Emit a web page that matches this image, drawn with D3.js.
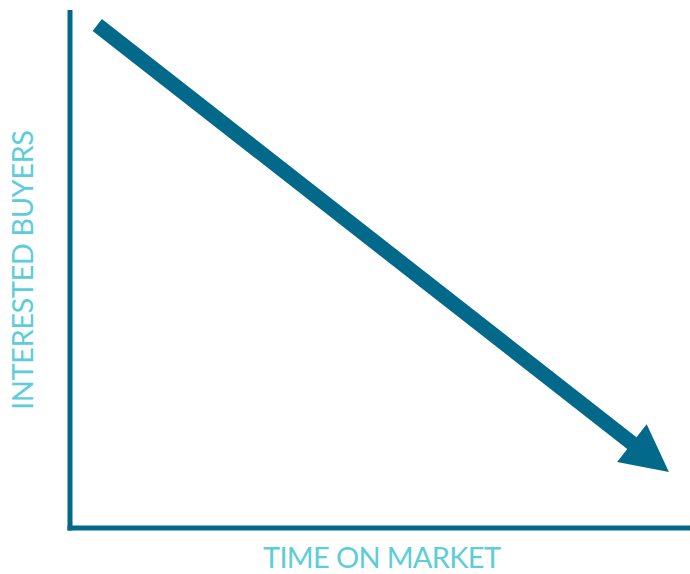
<!DOCTYPE html>
<html>
<head>
<meta charset="utf-8">
<script src="https://cdn.jsdelivr.net/npm/d3@7"></script>
<style>
  body { margin: 0; background: #fff; }
  svg { display: block; }
  .axis-label { font-family: Lato, "Open Sans", sans-serif; fill: #5ccdd9; font-size: 29px; }
</style>
</head>
<body>
<div class="chart"></div>
<script>
// Trend data (domain units, 0..100 on each axis).
const timeOnMarket = [4.4, 96.6];
const interestedBuyers = [97.1, 10.8];
const xLabel = "TIME ON MARKET";
const yLabel = "INTERESTED BUYERS";

const axisColor = "#03698a";

const width = 690;
const height = 574;
const margin = { top: 10, right: 0, bottom: 46, left: 70 };

const svg = d3
  .select(".chart")
  .append("svg")
  .attr("width", width)
  .attr("height", height);

// Scales.
const xScale = d3.scaleLinear().domain([0, 100]).range([margin.left, width - margin.right]);
const yScale = d3.scaleLinear().domain([0, 100]).range([height - margin.bottom, margin.top]);

// Axes (plain lines, no ticks).
svg.append("line")
  .attr("x1", xScale(0)).attr("x2", xScale(0))
  .attr("y1", yScale(100)).attr("y2", yScale(0) + 2.5)
  .attr("stroke", axisColor).attr("stroke-width", 5);

svg.append("line")
  .attr("x1", xScale(0) - 2.5).attr("x2", xScale(100))
  .attr("y1", yScale(0)).attr("y2", yScale(0))
  .attr("stroke", axisColor).attr("stroke-width", 5);

// Trend arrow.
const pts = timeOnMarket.map((t, i) => [xScale(t), yScale(interestedBuyers[i])]);
const [x0, y0] = pts[0];
const [x1, y1] = pts[1];
const len = Math.hypot(x1 - x0, y1 - y0);
const ux = (x1 - x0) / len, uy = (y1 - y0) / len;
const headLen = 47, headHalf = 24;
const bx = x1 - ux * headLen, by = y1 - uy * headLen;

svg.append("line")
  .attr("x1", x0).attr("y1", y0)
  .attr("x2", bx + ux * 2).attr("y2", by + uy * 2)
  .attr("stroke", axisColor).attr("stroke-width", 15);

svg.append("path")
  .attr("d", d3.line()([
    [x1, y1],
    [bx - uy * headHalf, by + ux * headHalf],
    [bx + uy * headHalf, by - ux * headHalf]
  ]) + "Z")
  .attr("fill", axisColor);

// Labels.
svg.append("text")
  .attr("class", "axis-label")
  .attr("x", 382).attr("y", 568)
  .attr("text-anchor", "middle")
  .attr("textLength", 238)
  .attr("lengthAdjust", "spacing")
  .text(xLabel);

svg.append("text")
  .attr("class", "axis-label")
  .attr("transform", "translate(33, 270) rotate(-90)")
  .attr("text-anchor", "middle")
  .attr("textLength", 280)
  .attr("lengthAdjust", "spacing")
  .text(yLabel);
</script>
</body>
</html>
